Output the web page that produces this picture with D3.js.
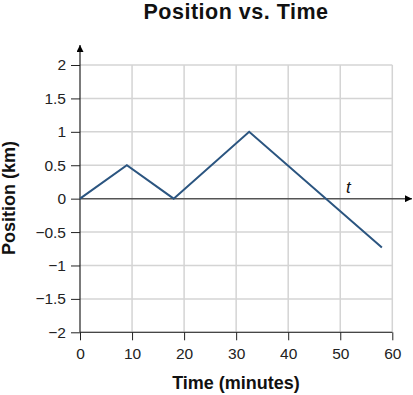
<!DOCTYPE html>
<html>
<head>
<meta charset="utf-8">
<script src="https://cdn.jsdelivr.net/npm/d3@7"></script>
<style>
  body { margin: 0; background: #fff; }
  text { font-family: "Liberation Sans", Arial, sans-serif; }
</style>
</head>
<body>
<script>
var w = 413;
var h = 395;

// data
var times = [0, 9, 18, 32.5, 58];
var positions = [0, 0.5, 0, 1, -0.73];
var xTicks = [0, 10, 20, 30, 40, 50, 60];
var yTicks = [-2, -1.5, -1, -0.5, 0, 0.5, 1, 1.5, 2];

var svg = d3.select("body").append("svg").attr("width", w).attr("height", h);

var x = d3.scaleLinear().domain([0, 60]).range([80, 392.3]);
var y = d3.scaleLinear().domain([-2, 2]).range([332.3, 65]);

// grid
svg.append("g").selectAll("line.vg")
  .data(xTicks.slice(1))
  .enter().append("line")
  .attr("x1", d => x(d)).attr("x2", d => x(d))
  .attr("y1", y(2)).attr("y2", y(-2))
  .attr("stroke", "#d4d4d4").attr("stroke-width", 1.5);

svg.append("g").selectAll("line.hg")
  .data(yTicks.filter(d => d !== 0))
  .enter().append("line")
  .attr("x1", x(0)).attr("x2", x(60))
  .attr("y1", d => y(d)).attr("y2", d => y(d))
  .attr("stroke", "#d4d4d4").attr("stroke-width", 1.5);

// arrow heads
var defs = svg.append("defs");
defs.append("marker")
  .attr("id", "arrow")
  .attr("viewBox", "0 0 10 10")
  .attr("refX", 10).attr("refY", 5)
  .attr("markerWidth", 11).attr("markerHeight", 7)
  .attr("markerUnits", "userSpaceOnUse")
  .attr("orient", "auto")
  .append("path").attr("d", "M0,0 L10,5 L0,10 Z").attr("fill", "#000");

// time axis at y = 0
svg.append("line")
  .attr("x1", x(0)).attr("x2", 412)
  .attr("y1", y(0)).attr("y2", y(0))
  .attr("stroke", "#555").attr("stroke-width", 1.5)
  .attr("marker-end", "url(#arrow)");

// left axis with arrow
var yAxis = d3.axisLeft(y).tickValues(yTicks).tickSize(9).tickPadding(5)
  .tickFormat(d => d3.format("")(d).replace("-", "\u2212"));
var gy = svg.append("g").attr("transform", "translate(" + x(0) + ",0)").call(yAxis);
gy.select(".domain").remove();
gy.selectAll(".tick line").attr("stroke", "#222");
gy.selectAll(".tick text").attr("font-size", 15.5).attr("fill", "#222")
  .style("font-family", "'Liberation Sans', Arial, sans-serif");
svg.append("line")
  .attr("x1", x(0)).attr("x2", x(0))
  .attr("y1", y(-2)).attr("y2", 45)
  .attr("stroke", "#222").attr("stroke-width", 1.2)
  .attr("marker-end", "url(#arrow)");

// bottom axis
var xAxis = d3.axisBottom(x).tickValues(xTicks).tickSize(8).tickPadding(8);
var gx = svg.append("g").attr("transform", "translate(0," + y(-2) + ")").call(xAxis);
gx.select(".domain").attr("stroke", "#222").attr("d", "M" + x(0) + ",0H" + x(60));
gx.selectAll(".tick line").attr("stroke", "#222");
gx.selectAll(".tick text").attr("font-size", 15.5).attr("fill", "#222")
  .style("font-family", "'Liberation Sans', Arial, sans-serif");

// the position line
var line = d3.line().x((d, i) => x(times[i])).y(d => y(d));
svg.append("path")
  .datum(positions)
  .attr("d", line)
  .attr("fill", "none")
  .attr("stroke", "#2b5580")
  .attr("stroke-width", 2);

// t label
svg.append("text")
  .attr("x", 346).attr("y", 192.5)
  .attr("font-size", 17).attr("font-style", "italic")
  .attr("fill", "#111")
  .text("t");

// titles
svg.append("text")
  .attr("x", 236).attr("y", 18.5)
  .attr("text-anchor", "middle")
  .attr("font-size", 21.5).attr("font-weight", "bold")
  .attr("letter-spacing", 0.5)
  .attr("fill", "#111")
  .text("Position vs. Time");

svg.append("text")
  .attr("x", 236).attr("y", 389)
  .attr("text-anchor", "middle")
  .attr("font-size", 18).attr("font-weight", "bold")
  .attr("fill", "#111")
  .text("Time (minutes)");

svg.append("text")
  .attr("transform", "translate(15,198) rotate(-90)")
  .attr("text-anchor", "middle")
  .attr("font-size", 18).attr("font-weight", "bold")
  .attr("fill", "#111")
  .text("Position (km)");
</script>
</body>
</html>
